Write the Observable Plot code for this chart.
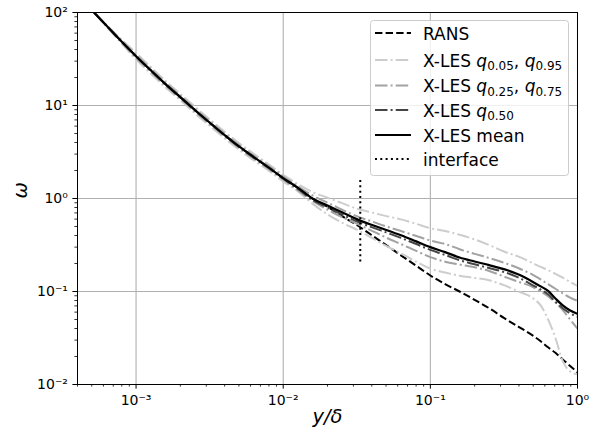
<!DOCTYPE html>
<html><head><meta charset="utf-8">
<script src="https://cdn.jsdelivr.net/npm/d3@7"></script>
<script src="https://cdn.jsdelivr.net/npm/@observablehq/plot@0.6"></script>
<style>
body{margin:0;background:#fff;}
#wrap{position:relative;width:601px;height:437px;font-family:"DejaVu Sans";}
#legend{position:absolute;left:0;top:0;pointer-events:none;}
</style></head><body><div id="wrap"></div>
<script>
// wall distance y/delta
const yDelta = [5.18e-4, 6.31e-4, 7.94e-4, 1e-3, 1.26e-3, 1.58e-3, 2e-3, 2.51e-3, 3.16e-3, 3.98e-3, 5.01e-3, 6.31e-3, 7.94e-3, 0.01, 0.0126, 0.0158, 0.02, 0.0251, 0.0316, 0.0398, 0.0501, 0.0631, 0.0794, 0.1, 0.126, 0.158, 0.2, 0.251, 0.316, 0.398, 0.501, 0.562, 0.631, 0.708, 0.794, 0.891, 1.0];
// omega series
const ransOmega = [100, 71.9, 49.1, 33.9, 23.9, 17.1, 12.3, 8.95, 6.56, 4.84, 3.63, 2.79, 2.16, 1.66, 1.30, 1.0, 0.813, 0.646, 0.519, 0.405, 0.315, 0.245, 0.191, 0.1486, 0.120, 0.100, 0.0813, 0.0661, 0.0520, 0.0417, 0.0333, 0.0292, 0.0251, 0.0219, 0.0186, 0.0158, 0.0135];
const lesMean = [100, 71.9, 49.1, 33.9, 23.9, 17.1, 12.3, 8.95, 6.56, 4.84, 3.63, 2.79, 2.16, 1.66, 1.30, 1.0, 0.841, 0.711, 0.600, 0.521, 0.459, 0.402, 0.348, 0.300, 0.265, 0.232, 0.210, 0.192, 0.174, 0.152, 0.126, 0.1135, 0.1016, 0.0841, 0.0708, 0.0624, 0.0575];
const lesQ05 = [100, 70.6, 46.9, 31.3, 22.0, 15.7, 11.4, 8.26, 6.05, 4.47, 3.35, 2.57, 2.0, 1.53, 1.19, 0.881, 0.676, 0.550, 0.462, 0.380, 0.309, 0.257, 0.211, 0.176, 0.160, 0.148, 0.140, 0.132, 0.117, 0.100, 0.0841, 0.0708, 0.0501, 0.0316, 0.0178, 0.0138, 0.0129];
const lesQ25 = [100, 71.3, 48.0, 32.7, 23.1, 16.5, 11.9, 8.65, 6.34, 4.68, 3.51, 2.69, 2.09, 1.60, 1.23, 0.944, 0.759, 0.631, 0.537, 0.452, 0.380, 0.324, 0.275, 0.234, 0.209, 0.195, 0.182, 0.166, 0.145, 0.127, 0.111, 0.100, 0.0891, 0.0759, 0.0631, 0.0501, 0.0398];
const lesQ50 = [100, 71.6, 48.8, 33.6, 23.7, 16.9, 12.2, 8.87, 6.49, 4.79, 3.59, 2.75, 2.14, 1.63, 1.27, 0.966, 0.804, 0.673, 0.569, 0.492, 0.432, 0.377, 0.326, 0.280, 0.247, 0.217, 0.196, 0.179, 0.162, 0.141, 0.116, 0.105, 0.0933, 0.0776, 0.0661, 0.0582, 0.0537];
const lesQ75 = [100, 72.6, 50.2, 35.1, 24.7, 17.7, 12.7, 9.27, 6.79, 5.01, 3.76, 2.88, 2.24, 1.72, 1.35, 1.08, 0.902, 0.759, 0.646, 0.569, 0.501, 0.447, 0.398, 0.353, 0.324, 0.285, 0.254, 0.229, 0.204, 0.178, 0.150, 0.135, 0.120, 0.107, 0.0955, 0.0861, 0.0794];
const lesQ95 = [100, 73.3, 51.4, 36.7, 25.9, 18.5, 13.3, 9.71, 7.11, 5.25, 3.94, 3.02, 2.34, 1.80, 1.43, 1.175, 1.02, 0.891, 0.776, 0.708, 0.646, 0.596, 0.537, 0.479, 0.447, 0.407, 0.363, 0.316, 0.269, 0.237, 0.200, 0.184, 0.170, 0.155, 0.141, 0.127, 0.115];
// interface location
const interfaceX = [0.0334, 0.0334];
const interfaceY = [0.21, 1.7];
// ticks
const xMajor = [1e-3, 1e-2, 1e-1, 1];
const yMajor = [1e-2, 1e-1, 1, 10, 100];
const xMinor = [4e-4,5e-4,6e-4,7e-4,8e-4,9e-4, 2e-3,3e-3,4e-3,5e-3,6e-3,7e-3,8e-3,9e-3, 0.02,0.03,0.04,0.05,0.06,0.07,0.08,0.09, 0.2,0.3,0.4,0.5,0.6,0.7,0.8,0.9];
const yMinor = [0.02,0.03,0.04,0.05,0.06,0.07,0.08,0.09, 0.2,0.3,0.4,0.5,0.6,0.7,0.8,0.9, 2,3,4,5,6,7,8,9, 20,30,40,50,60,70,80,90];
const legendLabels = ["RANS", "X-LES q0.05, q0.95", "X-LES q0.25, q0.75", "X-LES q0.50", "X-LES mean", "interface"];

const LIGHT = "#cdcdcd", MID = "#a2a2a2", DARK = "#454545";
const DASHDOT = "12.5,3.1,2,3.1", DASHED = "7.4,3.2", DOTTED = "2,3.3";

const sup = {"-":"⁻","0":"⁰","1":"¹","2":"²","3":"³","4":"⁴","5":"⁵","6":"⁶","7":"⁷","8":"⁸","9":"⁹"};
const fmt = d => "10" + String(Math.round(Math.log10(d))).split("").map(c => sup[c]).join("");

function lineOf(vals, opts) {
  return Plot.line(yDelta.map((x, i) => ({x, y: vals[i]})), {x: "x", y: "y", curve: "monotone-x", strokeLinecap: "butt", strokeLinejoin: "round", clip: true, ...opts});
}

const chart = Plot.plot({
  width: 601, height: 437,
  marginLeft: 77, marginRight: 24, marginTop: 12, marginBottom: 53,
  style: {fontFamily: "DejaVu Sans", fontSize: "14px", background: "white", color: "black", overflow: "visible"},
  x: {type: "log", domain: [4e-4, 1]},
  y: {type: "log", domain: [1e-2, 1e2]},
  marks: [
    Plot.gridX(xMajor, {stroke: "#b0b0b0", strokeOpacity: 1, strokeWidth: 1.1}),
    Plot.gridY(yMajor, {stroke: "#b0b0b0", strokeOpacity: 1, strokeWidth: 1.1}),
    Plot.axisX(xMinor, {tickSize: 2.6, tickFormat: () => "", label: null, strokeWidth: 0.8}),
    Plot.axisY(yMinor, {tickSize: 2.6, tickFormat: () => "", label: null, strokeWidth: 0.8}),
    Plot.axisX(xMajor, {tickSize: 4.6, tickPadding: 6, tickFormat: fmt, label: null, fontSize: 14, strokeWidth: 1}),
    Plot.axisY(yMajor, {tickSize: 4.6, tickPadding: 5, tickFormat: fmt, label: null, fontSize: 14, strokeWidth: 1}),
    lineOf(ransOmega, {stroke: "black", strokeWidth: 2, strokeDasharray: DASHED}),
    lineOf(lesQ05, {stroke: LIGHT, strokeWidth: 2, strokeDasharray: DASHDOT}),
    lineOf(lesQ95, {stroke: LIGHT, strokeWidth: 2, strokeDasharray: DASHDOT}),
    lineOf(lesQ25, {stroke: MID, strokeWidth: 2, strokeDasharray: DASHDOT}),
    lineOf(lesQ75, {stroke: MID, strokeWidth: 2, strokeDasharray: DASHDOT}),
    lineOf(lesQ50, {stroke: DARK, strokeWidth: 2, strokeDasharray: DASHDOT}),
    lineOf(lesMean, {stroke: "black", strokeWidth: 2.2}),
    Plot.line(interfaceX.map((x, i) => ({x, y: interfaceY[i]})), {x: "x", y: "y", stroke: "black", strokeWidth: 2, strokeDasharray: DOTTED, strokeLinecap: "butt"}),
    Plot.frame({stroke: "black", strokeWidth: 1}),
    Plot.text(["y/δ"], {frameAnchor: "bottom", dy: 38, fontSize: 19.5, fontStyle: "italic", fill: "black"}),
    Plot.text(["ω"], {frameAnchor: "left", dx: -57, rotate: -90, fontSize: 19.5, fontStyle: "italic", fill: "black"})
  ]
});
const wrap = document.getElementById("wrap");
wrap.appendChild(chart);

// legend overlay
const lg = d3.select(wrap).append("svg").attr("id", "legend").attr("width", 601).attr("height", 437)
  .style("font-family", "DejaVu Sans").style("font-size", "17px");
lg.append("rect").attr("x", 370.5).attr("y", 20.5).attr("width", 198).attr("height", 155).attr("rx", 3)
  .attr("fill", "white").attr("fill-opacity", 0.8).attr("stroke", "#cccccc").attr("stroke-width", 1);
const handles = [
  {stroke: "black", dash: DASHED, w: 2},
  {stroke: LIGHT, dash: DASHDOT, w: 2},
  {stroke: MID, dash: DASHDOT, w: 2},
  {stroke: DARK, dash: DASHDOT, w: 2},
  {stroke: "black", dash: null, w: 2.2},
  {stroke: "black", dash: DOTTED, w: 2}
];
const rowY = [33, 60, 85.5, 110, 135, 159];
legendLabels.forEach((lab, i) => {
  const h = handles[i];
  const ln = lg.append("line").attr("x1", 375).attr("x2", 411).attr("y1", rowY[i]).attr("y2", rowY[i])
    .attr("stroke", h.stroke).attr("stroke-width", h.w);
  if (h.dash) ln.attr("stroke-dasharray", h.dash);
  const t = lg.append("text").attr("x", 423).attr("y", rowY[i] + 6.5).attr("fill", "black");
  const m = lab.match(/^X-LES (q\d\.\d\d)(, (q\d\.\d\d))?$/);
  if (!m) { t.text(lab); return; }
  t.append("tspan").text("X-LES ");
  const addQ = q => {
    t.append("tspan").attr("font-style", "italic").text("q");
    t.append("tspan").attr("font-size", "12px").attr("dy", 3.5).text(q.slice(1));
  };
  addQ(m[1]);
  if (m[3]) {
    t.append("tspan").attr("dy", -3.5).text(", ");
    addQ(m[3]);
  }
});
</script></body></html>
